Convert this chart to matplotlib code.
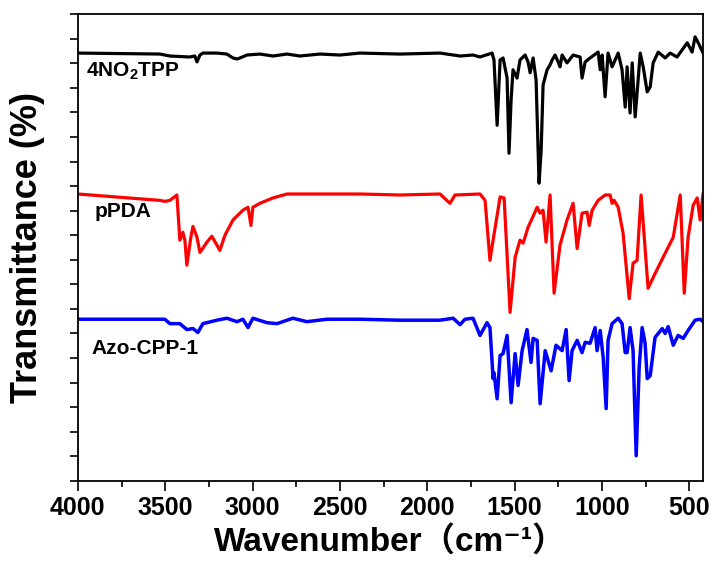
import matplotlib
matplotlib.use("Agg")
import matplotlib.pyplot as plt
from matplotlib.ticker import MultipleLocator, NullFormatter

plt.rcParams["font.family"] = ["Liberation Sans", "Noto Sans CJK SC", "DejaVu Sans"]
plt.rcParams["font.weight"] = "bold"
plt.rcParams["mathtext.fontset"] = "custom"
plt.rcParams["mathtext.rm"] = "Liberation Sans:bold"
plt.rcParams["mathtext.bf"] = "Liberation Sans:bold"

# 4NO2TPP (black)
wn_tpp = [4000, 3530, 3473, 3359, 3330, 3318, 3301, 3284, 3204, 3147, 3112, 3089, 3072, 3032,
          2958, 2883, 2803, 2729, 2614, 2500, 2385, 2156, 1927, 1812, 1738, 1698, 1629, 1618,
          1600, 1583, 1566, 1543, 1532, 1520, 1509, 1486, 1469, 1440, 1423, 1411, 1394, 1377,
          1360, 1348, 1337, 1314, 1297, 1285, 1268, 1251, 1240, 1228, 1200, 1165, 1125, 1114,
          1096, 1068, 1022, 1010, 999, 982, 965, 942, 907, 885, 867, 856, 839, 827, 810, 793,
          781, 764, 741, 724, 707, 678, 638, 610, 570, 512, 484, 467, 449, 421]
t_tpp = [87.1, 86.9, 86.5, 86.3, 86.5, 85.3, 86.7, 87.1, 87.1, 86.9, 86.1, 85.9, 86.1, 86.7,
         86.9, 86.5, 86.9, 86.5, 86.9, 86.7, 87.1, 86.9, 87.1, 86.5, 86.7, 86.3, 87.1, 85.7,
         72.4, 85.7, 86.1, 82.0, 66.7, 77.6, 83.7, 82.0, 85.7, 86.7, 85.3, 83.1, 86.1, 81.6,
         60.6, 67.3, 80.6, 83.7, 84.7, 85.7, 86.7, 85.3, 84.3, 86.7, 85.1, 86.7, 86.3, 82.0,
         85.3, 86.1, 87.3, 83.7, 86.7, 78.2, 87.1, 84.3, 87.1, 83.7, 76.1, 84.3, 74.9, 85.1,
         74.1, 81.6, 87.1, 84.3, 79.2, 80.2, 85.1, 87.3, 86.1, 87.1, 86.3, 89.2, 87.3, 90.4,
         89.2, 87.1]

# pPDA (red)
wn_pda = [4000, 3530, 3502, 3473, 3433, 3416, 3399, 3387, 3376, 3353, 3341, 3318, 3301, 3261,
          3233, 3204, 3187, 3158, 3112, 3055, 3026, 3009, 2998, 2958, 2883, 2803, 2385, 2156,
          1927, 1870, 1841, 1698, 1669, 1641, 1623, 1583, 1560, 1526, 1497, 1469, 1451, 1423,
          1371, 1354, 1337, 1320, 1297, 1274, 1240, 1200, 1165, 1142, 1114, 1085, 1073, 1056,
          1022, 982, 953, 942, 930, 907, 879, 844, 822, 799, 776, 736, 696, 650, 592, 552, 529,
          507, 478, 455, 438, 421]
t_pda = [58.4, 57.1, 56.9, 57.1, 58.2, 49.0, 50.6, 49.0, 43.9, 49.6, 51.8, 49.6, 46.5, 48.6,
         49.8, 48.0, 46.9, 50.0, 53.1, 55.1, 55.7, 52.0, 55.7, 56.5, 57.6, 58.4, 58.4, 58.2,
         58.4, 56.5, 58.2, 58.4, 57.1, 44.9, 49.0, 57.8, 57.6, 34.3, 45.5, 49.0, 48.4, 51.6,
         55.7, 54.5, 55.1, 48.6, 58.2, 38.2, 48.0, 53.1, 56.5, 47.3, 54.5, 54.7, 52.0, 55.1,
         57.1, 58.2, 58.2, 56.5, 57.1, 55.7, 50.4, 37.1, 44.3, 44.9, 58.2, 39.2, 42.2, 45.5,
         49.6, 58.2, 38.2, 49.6, 56.1, 57.6, 53.1, 58.6]

# Azo-CPP-1 (blue)
wn_azo = [4000, 3502, 3473, 3416, 3376, 3341, 3313, 3284, 3204, 3147, 3089, 3055, 3026, 2998,
          2918, 2860, 2769, 2689, 2574, 2385, 2156, 1927, 1852, 1812, 1784, 1738, 1698, 1658,
          1641, 1623, 1618, 1600, 1583, 1566, 1543, 1520, 1497, 1480, 1457, 1429, 1406, 1394,
          1371, 1354, 1325, 1291, 1263, 1228, 1205, 1188, 1171, 1142, 1114, 1096, 1068, 1039,
          1028, 1010, 993, 976, 965, 942, 907, 885, 867, 856, 839, 822, 804, 787, 770, 753,
          741, 724, 696, 655, 638, 621, 592, 564, 535, 507, 467, 438, 421]
t_azo = [32.9, 32.9, 32.0, 32.0, 30.8, 31.0, 30.2, 32.0, 32.7, 33.1, 32.4, 32.9, 31.2, 33.1,
         32.2, 32.0, 33.1, 32.4, 32.9, 32.9, 32.7, 32.7, 33.1, 31.8, 32.9, 33.1, 29.6, 32.2,
         31.2, 20.8, 22.0, 16.7, 25.5, 25.9, 29.6, 15.9, 25.9, 19.4, 26.5, 30.8, 24.1, 29.0,
         28.6, 15.7, 26.5, 22.4, 27.6, 26.5, 30.8, 20.4, 26.5, 28.6, 26.1, 28.2, 28.0, 31.2,
         26.5, 30.6, 25.1, 14.7, 28.6, 32.0, 33.1, 32.0, 26.1, 26.1, 31.2, 26.5, 5.1, 23.1,
         31.2, 28.0, 20.8, 21.4, 29.2, 31.0, 30.0, 31.4, 27.6, 29.6, 29.0, 30.6, 32.7, 32.9,
         32.4]

fig = plt.figure(figsize=(7.14, 5.71), dpi=100)
ax = fig.add_axes([0.109, 0.158, 0.876, 0.817])

line_kw = dict(solid_joinstyle="round", solid_capstyle="round")
ax.plot(wn_tpp, t_tpp, color="black", lw=2.3, **line_kw)
ax.plot(wn_pda, t_pda, color="red", lw=2.3, **line_kw)
ax.plot(wn_azo, t_azo, color="blue", lw=2.5, **line_kw)

ax.text(3955, 83.4, r"4NO$_{2}$TPP", fontsize=15, fontweight="bold", va="center", ha="left")
ax.text(3905, 54.8, "pPDA", fontsize=15, fontweight="bold", va="center", ha="left")
ax.text(3920, 27.0, "Azo-CPP-1", fontsize=15, fontweight="bold", va="center", ha="left")

ax.set_xlim(4000, 420)
ax.set_ylim(0, 95)
ax.xaxis.set_major_locator(MultipleLocator(500))
ax.xaxis.set_minor_locator(MultipleLocator(250))
ax.yaxis.set_major_locator(MultipleLocator(5))
ax.yaxis.set_major_formatter(NullFormatter())
ax.tick_params(axis="x", which="major", direction="out", length=7, width=1.2, labelsize=18, pad=4)
ax.tick_params(axis="x", which="minor", direction="out", length=4.5, width=1.2)
ax.tick_params(axis="y", which="major", direction="out", length=6, width=1.2)
for lbl in ax.get_xticklabels():
    lbl.set_fontweight("bold")
for s in ax.spines.values():
    s.set_linewidth(1.3)

ax.set_xlabel("Wavenumber（cm⁻¹）", fontsize=24, fontweight="bold", labelpad=4)
ax.set_ylabel("Transmittance (%)", fontsize=26, fontweight="bold", labelpad=14)

fig.savefig("out.png", dpi=100)
